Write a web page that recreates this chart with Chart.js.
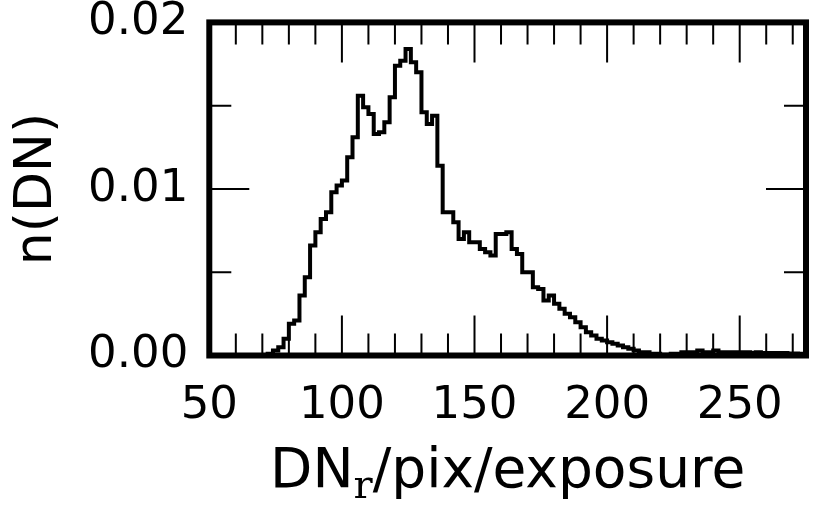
<!DOCTYPE html>
<html><head><meta charset="utf-8">
<script src="https://cdn.jsdelivr.net/npm/chart.js@4/dist/chart.umd.min.js"></script>
<style>html,body{margin:0;padding:0;background:#fff;overflow:hidden}canvas{display:block}</style>
</head><body>
<canvas id="c" width="830" height="510" style="width:830px;height:510px"></canvas>
<script>
// Histogram bin left edges (DN_r/pix/exposure), bin width 2
const binEdges = [66,68,70,72,74,76,78,80,82,84,86,88,90,92,94,96,98,100,102,104,106,108,110,112,114,116,118,120,122,124,126,128,130,132,134,136,138,140,142,144,146,148,150,152,154,156,158,160,162,164,166,168,170,172,174,176,178,180,182,184,186,188,190,192,194,196,198,200,202,204,206,208,210,212,214,216,218,220,222,224,226,228,230,232,234,236,238,240,242,244,246,248,250,252,254,256,258,260,262,264,266,268,270,272];
const lastEdge = 274;
// n(DN) per bin
const binValues = [0,0,0,0.0001,0.0003,0.0005,0.0010,0.0019,0.0021,0.0036,0.0047,0.0066,0.0074,0.0082,0.0086,0.0098,0.0102,0.0105,0.0119,0.0131,0.0156,0.0149,0.0145,0.0133,0.0134,0.0140,0.0155,0.0174,0.0177,0.0184,0.0176,0.0170,0.0146,0.0139,0.0144,0.0114,0.0086,0.0086,0.0080,0.0070,0.0074,0.0068,0.0068,0.0064,0.0062,0.0060,0.0073,0.0073,0.0074,0.0064,0.0061,0.0050,0.0050,0.0041,0.0040,0.0033,0.0036,0.0031,0.0028,0.0025,0.0023,0.0020,0.0017,0.0014,0.0012,0.0010,0.0009,0.0008,0.0007,0.0006,0.0005,0.0004,0.0003,0.0002,0.0002,0.0001,0.0001,0.00005,0.00005,0.0001,0.0001,0.0002,0.0002,0.0002,0.0003,0.0002,0.0002,0.0003,0.0002,0.0002,0.0002,0.0002,0.0002,0.0002,0.00015,0.0002,0.00015,0.00015,0.00015,0.00015,0.00015,0.00012,0.00012,0.0001];
// tick positions (minor + major) and labelled ticks
const xTickValues = [50,60,70,80,90,100,110,120,130,140,150,160,170,180,190,200,210,220,230,240,250,260,270];
const xTickLabels = [50,100,150,200,250];
const yTickValues = [0,0.005,0.01,0.015,0.02];
const yTickLabels = [0.00,0.01,0.02];
const xTitleMain = 'DN', xTitleSub = 'r', xTitleRest = '/pix/exposure';
const yTitle = 'n(DN)';

const points = binEdges.map((e,i)=>({x:e,y:binValues[i]}));
points.push({x:lastEdge,y:binValues[binValues.length-1]});

const FONT = '"DejaVu Sans", "Bitstream Vera Sans", sans-serif';
const near = (a,b)=>Math.abs(a-b)<1e-9;

const framePlugin = {
  id:'frame',
  afterDraw(chart){
    const ctx = chart.ctx, a = chart.chartArea, xs = chart.scales.x, ys = chart.scales.y;
    ctx.save();
    ctx.strokeStyle = '#000';
    ctx.lineWidth = 2;
    ctx.beginPath();
    xTickValues.forEach(v=>{
      const major = xTickLabels.some(l=>near(l,v));
      const L = major?40:22;
      const px = xs.getPixelForValue(v);
      ctx.moveTo(px,a.bottom); ctx.lineTo(px,a.bottom-L);
      ctx.moveTo(px,a.top); ctx.lineTo(px,a.top+L);
    });
    yTickValues.forEach(v=>{
      const major = yTickLabels.some(l=>near(l,v));
      const L = major?40:22;
      const py = ys.getPixelForValue(v);
      ctx.moveTo(a.left,py); ctx.lineTo(a.left+L,py);
      ctx.moveTo(a.right,py); ctx.lineTo(a.right-L,py);
    });
    ctx.stroke();
    ctx.lineWidth = 6;
    ctx.strokeRect(a.left,a.top,a.right-a.left,a.bottom-a.top);
    // x-axis title with subscript
    ctx.fillStyle = '#000';
    ctx.textBaseline = 'alphabetic';
    ctx.textAlign = 'left';
    const mainFont = '55px ' + FONT, subFont = '40px "DejaVu Serif", "Liberation Serif", serif';
    ctx.font = mainFont; const w1 = ctx.measureText(xTitleMain).width, w3 = ctx.measureText(xTitleRest).width;
    ctx.font = subFont; const w2 = ctx.measureText(xTitleSub).width;
    const cx = (a.left+a.right)/2, base = 487;
    let x0 = cx - (w1+w2+w3)/2;
    ctx.font = mainFont; ctx.fillText(xTitleMain,x0,base);
    ctx.font = subFont; ctx.fillText(xTitleSub,x0+w1,base+11);
    ctx.font = mainFont; ctx.fillText(xTitleRest,x0+w1+w2,base);
    ctx.restore();
  }
};

new Chart(document.getElementById('c'),{
  type:'line',
  data:{datasets:[{data:points,stepped:'before',borderColor:'#000',borderWidth:4,pointRadius:0,fill:false,tension:0,clip:4}]},
  options:{
    responsive:false,animation:false,devicePixelRatio:1,
    layout:{padding:{top:22.4,right:24,left:0,bottom:0}},
    plugins:{legend:{display:false},tooltip:{enabled:false}},
    scales:{
      x:{type:'linear',min:50,max:275,
        afterBuildTicks(s){ s.ticks = xTickValues.map(v=>({value:v})); },
        afterFit(s){ s.height=154.5; s.paddingLeft=0; s.paddingRight=0; },
        grid:{display:false,drawTicks:false},border:{display:false},
        title:{display:false},
        ticks:{autoSkip:false,maxRotation:0,minRotation:0,padding:24,color:'#000',font:{family:FONT,size:45},
          callback:(v)=>{const m = xTickLabels.find(t=>near(t,v)); return m===undefined?'':String(m);}}
      },
      y:{type:'linear',min:0,max:0.02,
        afterBuildTicks(s){ s.ticks = yTickValues.map(v=>({value:v})); },
        afterFit(s){ s.width=209.3; s.paddingTop=0; s.paddingBottom=0; },
        grid:{display:false,drawTicks:false},border:{display:false},
        title:{display:true,text:yTitle,color:'#000',font:{family:FONT,size:52},padding:{top:6,bottom:0}},
        ticks:{autoSkip:false,padding:21,color:'#000',font:{family:FONT,size:45},
          callback:(v)=>{const m = yTickLabels.find(t=>near(t,v)); return m===undefined?'':m.toFixed(2);}}
      }
    }
  },
  plugins:[framePlugin]
});
</script>
</body></html>
